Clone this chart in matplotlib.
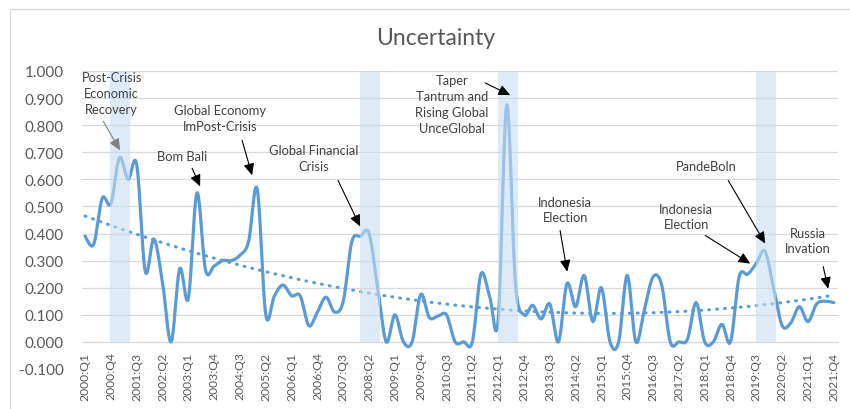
import numpy as np
import matplotlib
matplotlib.use("Agg")
import matplotlib.pyplot as plt
from matplotlib.patches import Rectangle

plt.rcParams["font.family"] = ["Lato", "DejaVu Sans"]

# 2000:Q1 .. 2021:Q4
quarters = [f"{y}:Q{q}" for y in range(2000, 2022) for q in range(1, 5)]
uncertainty = [
    0.39, 0.36, 0.53, 0.51, 0.68, 0.60, 0.655, 0.26, 0.38, 0.22,
    0.00, 0.27, 0.16, 0.55, 0.265, 0.28, 0.30, 0.30, 0.32, 0.37,
    0.565, 0.10, 0.17, 0.21, 0.17, 0.17, 0.06, 0.11, 0.165, 0.11,
    0.15, 0.37, 0.39, 0.40, 0.20, 0.00, 0.10, 0.00, 0.00, 0.175,
    0.09, 0.095, 0.10, 0.00, 0.00, 0.00, 0.25, 0.17, 0.08, 0.875,
    0.22, 0.10, 0.135, 0.085, 0.14, 0.00, 0.215, 0.13, 0.245, 0.075,
    0.20, 0.00, 0.00, 0.245, 0.00, 0.12, 0.24, 0.21, 0.00, 0.00,
    0.01, 0.145, 0.00, 0.00, 0.065, 0.00, 0.24, 0.25, 0.29, 0.335,
    0.20, 0.06, 0.07, 0.13, 0.075, 0.14, 0.15, 0.145,
]
# shaded episodes
band_quarters = ["2001:Q1", "2008:Q2", "2012:Q2", "2019:Q4"]
band_heights = [1.0, 1.0, 1.0, 1.0]

# (label, text position, arrow start, arrow end, arrow colour)
annotations = [
    ("Post-Crisis\nEconomic\nRecovery", (3.1, 0.918), (2.1, 0.815), (4.07, 0.707), "#808080"),
    ("Bom Bali", (11.3, 0.685), (12.44, 0.641), (13.37, 0.574), "black"),
    ("Global Economy\nImPost-Crisis", (15.7, 0.826), (18.25, 0.744), (19.41, 0.615), "black"),
    ("Global Financial\nCrisis", (26.6, 0.678), (29.4, 0.596), (31.96, 0.426), "black"),
    ("Taper\nTantrum and\nRising Global\nUnceGlobal", (42.65, 0.878), (46.49, 0.956), (49.4, 0.911), "black"),
    ("Indonesia\nElection", (55.8, 0.489), (55.2, 0.411), (56.02, 0.259), "black"),
    ("Indonesia\nElection", (69.85, 0.463), (72.06, 0.393), (77.29, 0.289), "black"),
    ("PandeBoln", (72.2, 0.648), (74.73, 0.596), (79.03, 0.363), "black"),
    ("Russia\nInvation", (84.0, 0.374), (85.77, 0.278), (86.35, 0.196), "black"),
]

LINE = "#5B9BD5"
GREY = "#595959"


def smooth(x, y, n=20):
    """Excel-like smoothed line (Catmull-Rom -> cubic Bezier)."""
    x = np.asarray(x, float)
    y = np.asarray(y, float)
    px = np.r_[x[0], x, x[-1]]
    py = np.r_[y[0], y, y[-1]]
    t = np.linspace(0, 1, n, endpoint=False)[:, None]
    xs, ys = [], []
    for i in range(len(x) - 1):
        p0, p1, p2, p3 = (np.array([px[i + k], py[i + k]]) for k in range(4))
        c1 = p1 + (p2 - p0) / 6
        c2 = p2 - (p3 - p1) / 6
        pts = ((1 - t) ** 3) * p1 + 3 * ((1 - t) ** 2) * t * c1 + 3 * (1 - t) * t ** 2 * c2 + t ** 3 * p2
        xs.append(pts[:, 0])
        ys.append(pts[:, 1])
    return np.r_[np.concatenate(xs), x[-1]], np.r_[np.concatenate(ys), y[-1]]


idx = np.arange(len(quarters))
vals = np.array(uncertainty)

fig = plt.figure(figsize=(8.5, 4.1), dpi=100)
ax = fig.add_axes([0.0965, 0.0976, 0.8895, 0.7268])

ax.set_ylim(-0.1, 1.0)
ax.set_xlim(-0.35, 87.5)
ax.set_yticks(np.arange(-0.1, 1.0001, 0.1))
ax.yaxis.set_major_formatter(matplotlib.ticker.FormatStrFormatter("%.3f"))
ax.grid(axis="y", color="#D9D9D9", lw=0.9)
ax.set_axisbelow(True)
for s in ("top", "right", "left"):
    ax.spines[s].set_visible(False)
ax.spines["bottom"].set_position(("data", 0))
ax.spines["bottom"].set_color("#D9D9D9")
ax.set_xticks(idx[::3])
ax.set_xticklabels(quarters[::3], rotation=90, fontsize=8.7, color=GREY)
ax.tick_params(axis="x", length=0, pad=7)
ax.tick_params(axis="y", length=0, pad=13, labelsize=11, labelcolor=GREY)

sx, sy = smooth(idx, vals)
ax.plot(sx, sy, color=LINE, lw=2.3, solid_capstyle="round", zorder=3)

coef = np.polyfit(idx, vals, 2)
ax.plot(idx, np.polyval(coef, idx), color=LINE, lw=2.2, ls=(0, (0.3, 2.3)),
        dash_capstyle="round", zorder=3)

band_pos = [quarters.index(q) + 0.1 for q in band_quarters]
ax.bar(band_pos, band_heights, width=2.3, color="#C8DEF2", alpha=0.6,
       lw=0, zorder=4)

for label, tpos, start, end, col in annotations:
    ax.text(*tpos, label, ha="center", va="center", fontsize=9.3,
            color="#404040", linespacing=1.38, zorder=5)
    ax.annotate("", xy=end, xytext=start, zorder=5,
                arrowprops=dict(arrowstyle="-|>,head_length=0.7,head_width=0.32",
                                lw=0.8, color=col, shrinkA=0, shrinkB=0))

fig.text(0.512, 0.907, "Uncertainty", ha="center", va="center",
         fontsize=16.5, color=GREY)
fig.patches.append(Rectangle((10 / 850, -0.1), 1.2, 1.1 - 10 / 410,
                             transform=fig.transFigure, fill=False,
                             ec="#D9D9D9", lw=0.9))

fig.savefig("out.png", dpi=100)
